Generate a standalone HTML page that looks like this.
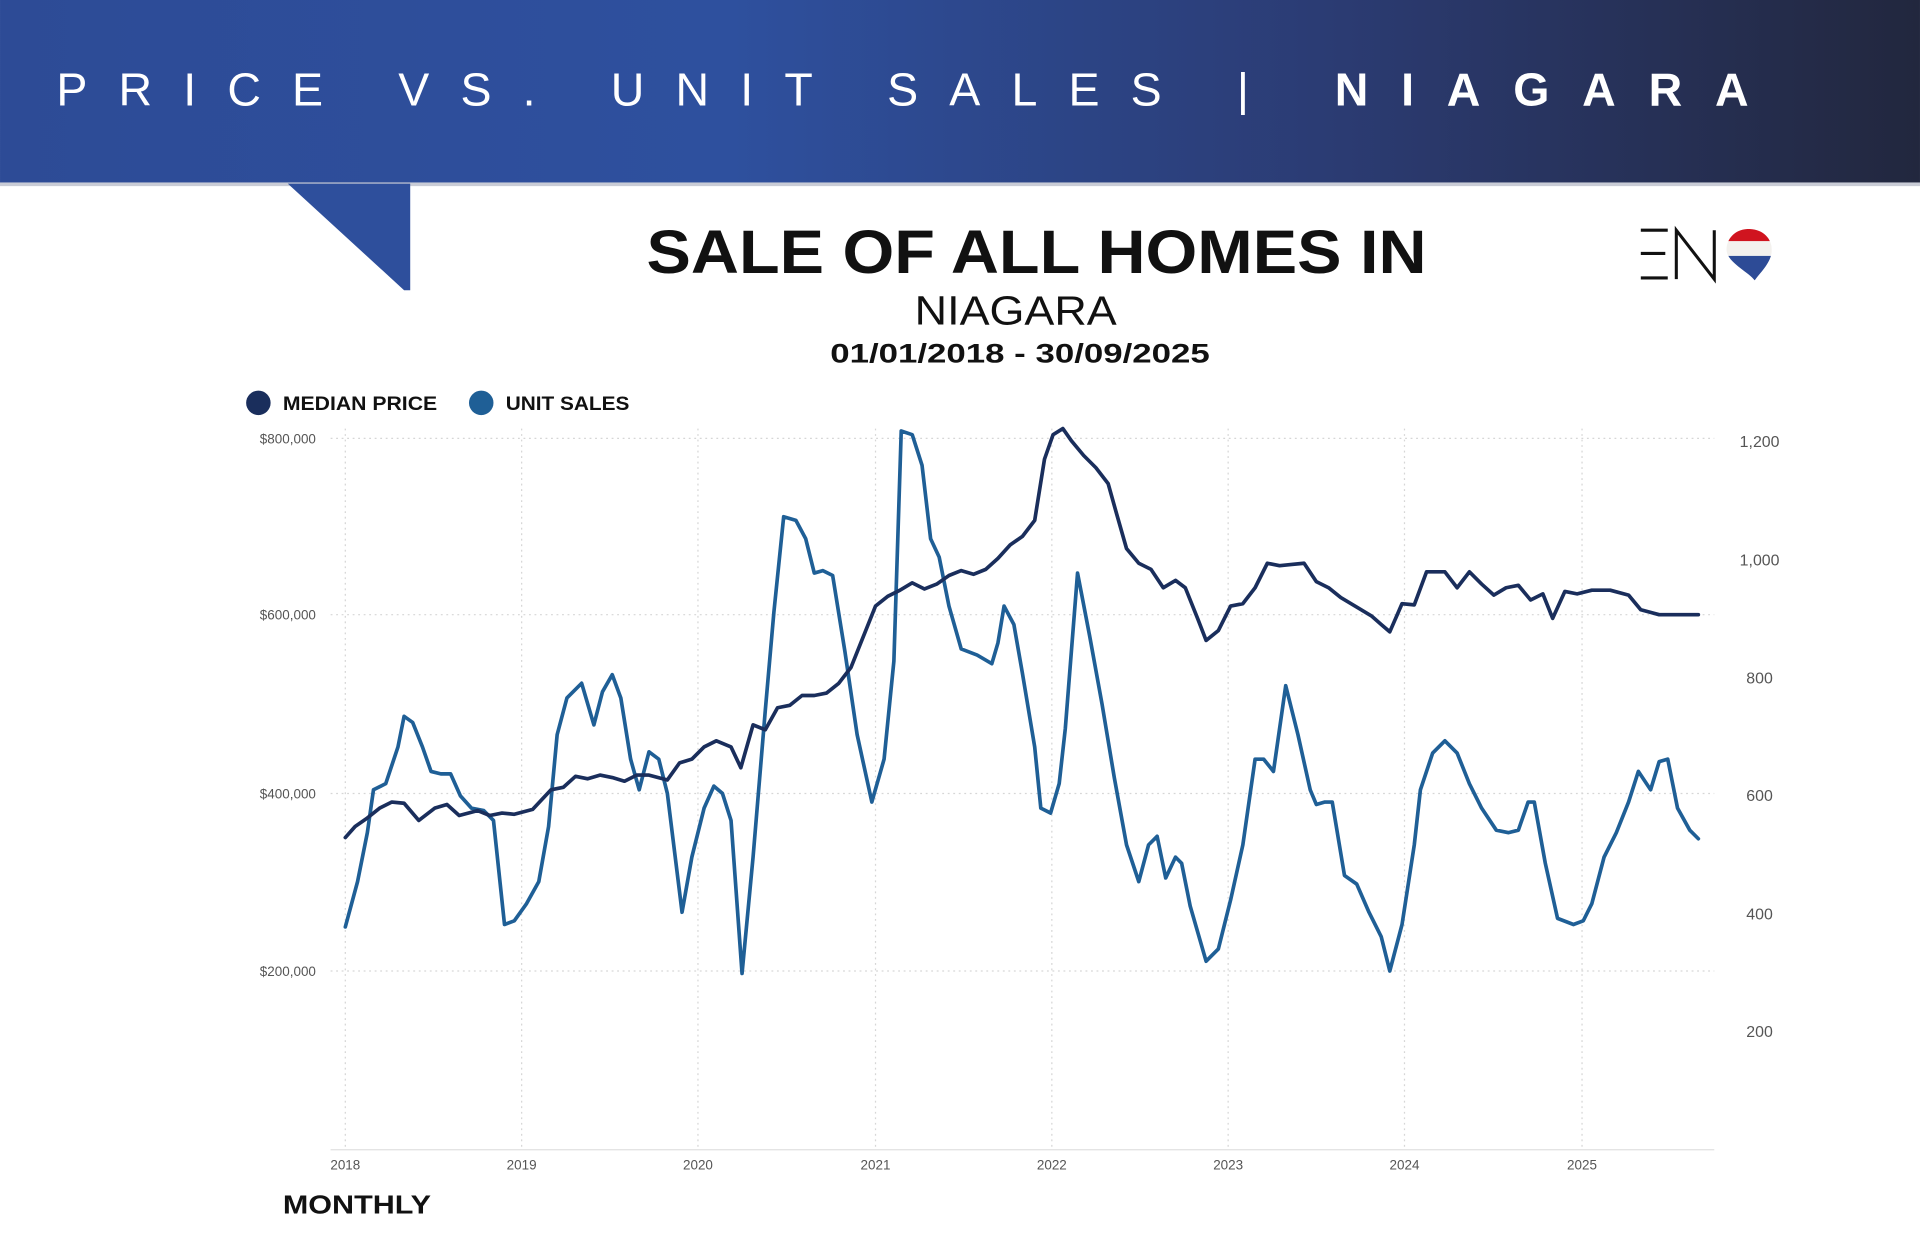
<!DOCTYPE html>
<html><head><meta charset="utf-8"><style>html,body{margin:0;padding:0;background:#fff;}svg{display:block;}</style></head>
<body>
<svg width="1920" height="1241" viewBox="0 0 1568 1013.5" xmlns="http://www.w3.org/2000/svg" font-family="Liberation Sans, sans-serif">
<defs>
<linearGradient id="hg" x1="0" x2="1" y1="0" y2="0">
<stop offset="0" stop-color="#2d4b96"/><stop offset="0.38" stop-color="#2e509e"/><stop offset="0.7" stop-color="#2b3b72"/><stop offset="1" stop-color="#22273e"/>
</linearGradient>
<clipPath id="pin"><path d="M1428,187 C1440,187 1447,195 1447,204 C1447,214 1438,222 1433,229 C1428,222 1410,214 1410,204 C1410,195 1417,187 1428,187 Z"/></clipPath>
</defs>
<rect width="1568" height="1013.5" fill="#fff"/>
<rect x="0" y="0" width="1568" height="150" fill="url(#hg)"/>
<rect x="0" y="149" width="1568" height="3" fill="#c9ccd6"/>
<polygon points="235,150 335,150 335,237 330,237" fill="#2e4f9c"/>
<text x="46" y="86" font-size="38" fill="#fff" textLength="974" lengthAdjust="spacing">PRICE VS. UNIT SALES |</text>
<text x="1090" y="86" font-size="38" font-weight="bold" fill="#fff" textLength="338" lengthAdjust="spacing">NIAGARA</text>
<text x="528" y="223" font-size="50" font-weight="bold" fill="#111" textLength="637" lengthAdjust="spacingAndGlyphs">SALE OF ALL HOMES IN</text>
<text x="747" y="265" font-size="33" fill="#111" textLength="165" lengthAdjust="spacingAndGlyphs">NIAGARA</text>
<text x="678" y="296" font-size="22" font-weight="bold" fill="#111" textLength="310" lengthAdjust="spacingAndGlyphs">01/01/2018 - 30/09/2025</text>
<!-- logo -->
<g stroke="#111" stroke-width="2.5" fill="none">
<line x1="1340" y1="188" x2="1362" y2="188"/><line x1="1340" y1="207" x2="1360" y2="207"/><line x1="1340" y1="227" x2="1362" y2="227"/>
<polyline points="1369,228 1369,188 1400,228 1400,188"/>
</g>
<g clip-path="url(#pin)">
<rect x="1408" y="185" width="42" height="12" fill="#d0141f"/>
<rect x="1408" y="197" width="42" height="12" fill="#f3f1ee"/>
<rect x="1408" y="209" width="42" height="22" fill="#2d4b96"/>
</g>
<!-- legend -->
<circle cx="211" cy="329" r="10" fill="#1a2e5c"/>
<text x="231" y="335" font-size="16" font-weight="bold" fill="#111" textLength="126" lengthAdjust="spacingAndGlyphs">MEDIAN PRICE</text>
<circle cx="393" cy="329" r="10" fill="#1f5f96"/>
<text x="413" y="335" font-size="16" font-weight="bold" fill="#111" textLength="101" lengthAdjust="spacingAndGlyphs">UNIT SALES</text>
<!-- grid -->
<g stroke="#d6d6d6" stroke-width="1" stroke-dasharray="1.5,3">
<line x1="270" y1="358" x2="1400" y2="358"/><line x1="270" y1="502" x2="1400" y2="502"/><line x1="270" y1="648" x2="1400" y2="648"/><line x1="270" y1="793" x2="1400" y2="793"/>
<line x1="282" y1="350" x2="282" y2="938"/><line x1="426" y1="350" x2="426" y2="938"/><line x1="570" y1="350" x2="570" y2="938"/><line x1="715" y1="350" x2="715" y2="938"/><line x1="859" y1="350" x2="859" y2="938"/><line x1="1003" y1="350" x2="1003" y2="938"/><line x1="1147" y1="350" x2="1147" y2="938"/><line x1="1292" y1="350" x2="1292" y2="938"/>
</g>
<line x1="270" y1="939" x2="1400" y2="939" stroke="#e0e0e0" stroke-width="1"/>
<g font-size="11" fill="#555" text-anchor="end">
<text x="258" y="362">$800,000</text><text x="258" y="506">$600,000</text><text x="258" y="652">$400,000</text><text x="258" y="797">$200,000</text>
</g>
<g font-size="13" fill="#555" text-anchor="middle">
<text x="1437" y="365">1,200</text><text x="1437" y="462">1,000</text><text x="1437" y="558">800</text><text x="1437" y="654">600</text><text x="1437" y="751">400</text><text x="1437" y="847">200</text>
</g>
<g font-size="11" fill="#555" text-anchor="middle">
<text x="282" y="955">2018</text><text x="426" y="955">2019</text><text x="570" y="955">2020</text><text x="715" y="955">2021</text><text x="859" y="955">2022</text><text x="1003" y="955">2023</text><text x="1147" y="955">2024</text><text x="1292" y="955">2025</text>
</g>
<polyline fill="none" stroke="#1f5f96" stroke-width="3" stroke-linejoin="round" stroke-linecap="round" points="282,757 292,720 300,680 305,645 315,640 325,610 330,585 337,590 345,610 352,630 360,632 368,632 376,650 385,660 395,662 403,670 412,755 420,752 430,738 440,720 448,675 455,600 463,570 475,558 485,592 492,565 500,551 507,570 515,620 522,645 530,614 538,620 545,648 557,745 565,700 575,660 583,642 590,648 597,670 606,795 615,700 625,580 632,500 640,422 650,425 658,440 665,468 672,466 680,470 690,532 700,600 712,655 722,620 730,540 736,352 745,355 753,380 760,440 767,455 775,495 785,530 798,535 810,542 815,525 820,495 828,510 835,550 845,610 850,660 858,664 865,640 870,595 880,468 890,520 900,575 910,635 920,690 930,720 938,690 945,683 952,717 960,700 965,705 972,740 985,785 995,775 1005,735 1015,690 1025,620 1032,620 1040,630 1050,560 1060,600 1070,645 1075,657 1082,655 1088,655 1098,715 1108,722 1118,745 1128,765 1135,793 1145,755 1155,690 1160,645 1170,615 1180,605 1190,615 1200,640 1210,660 1222,678 1232,680 1240,678 1248,655 1253,655 1262,705 1272,750 1285,755 1293,752 1300,738 1310,700 1320,680 1330,655 1338,630 1348,645 1355,622 1362,620 1370,660 1380,678 1387,685"/>
<polyline fill="none" stroke="#1a2e5c" stroke-width="3" stroke-linejoin="round" stroke-linecap="round" points="282,684 290,675 300,668 310,660 320,655 330,656 342,670 355,660 365,657 375,666 390,662 400,666 410,664 420,665 435,661 450,645 460,643 470,634 480,636 490,633 500,635 510,638 520,633 530,633 545,637 555,623 565,620 575,610 585,605 597,610 605,627 615,592 625,596 635,578 645,576 655,568 665,568 675,566 685,558 695,545 705,520 715,495 725,487 735,482 745,476 755,481 765,477 775,470 785,466 795,469 805,465 815,456 825,445 835,438 845,425 853,375 860,355 868,350 875,360 885,372 895,382 905,395 912,420 920,448 930,460 940,465 950,480 960,474 968,480 978,505 985,523 995,515 1005,495 1015,493 1025,480 1035,460 1045,462 1055,461 1065,460 1075,475 1085,480 1095,488 1110,497 1120,503 1128,510 1135,516 1145,493 1155,494 1165,467 1180,467 1190,480 1200,467 1210,477 1220,486 1230,480 1240,478 1250,490 1260,485 1268,505 1278,483 1288,485 1300,482 1315,482 1330,486 1340,498 1355,502 1387,502"/>
<text x="231" y="991" font-size="21" font-weight="bold" fill="#111" textLength="121" lengthAdjust="spacingAndGlyphs">MONTHLY</text>
</svg>
</body></html>
